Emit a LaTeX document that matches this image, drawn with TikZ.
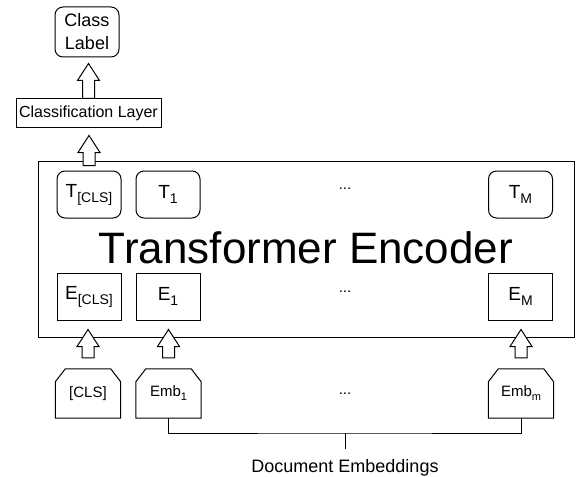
\documentclass[tikz,border=0pt]{standalone}
\usepackage{fontspec}
\setmainfont{Liberation Sans}
\usetikzlibrary{calc}
\newcommand{\mysub}[2]{\raisebox{-#2}{\fontsize{#1}{#1}\selectfont\strut}}
\newcommand{\tsub}[1]{\raisebox{-5pt}{\fontsize{14}{14}\selectfont #1}}
\newcommand{\bsub}[1]{\raisebox{-4pt}{\fontsize{11}{11}\selectfont #1}}
\newcommand{\blockarrow}[2]{\draw[barrow] let \p1=#1, \p2=#2 in
  (\x1-6pt,\y1) -- (\x1-6pt,\y2-17pt) -- (\x1-11pt,\y2-17pt) -- (\x1,\y2)
  -- (\x1+11pt,\y2-17pt) -- (\x1+6pt,\y2-17pt) -- (\x1+6pt,\y1) -- cycle;}
\newcommand{\chamfer}[1]{\draw[line width=1pt] ([yshift=-13pt]#1.north west) -- ([xshift=10pt]#1.north west)
  -- ([xshift=-10pt]#1.north east) -- ([yshift=-13pt]#1.north east)
  -- (#1.south east) -- (#1.south west) -- cycle;}
\tikzset{
  box/.style={draw, line width=1pt, inner sep=0pt, minimum width=64pt, minimum height=47pt, align=center},
  rbox/.style={box, rounded corners=8pt},
  cbox/.style={inner sep=0pt, minimum width=65pt, minimum height=49pt, align=center},
  tlabel/.style={font=\fontsize{19}{23}\selectfont},
  blabel/.style={font=\fontsize{15}{18}\selectfont},
  dots/.style={font=\fontsize{15}{18}\selectfont, inner sep=0pt},
  barrow/.style={draw, fill=white, line width=1pt, line join=miter}
}
\begin{document}
\begin{tikzpicture}[x=1pt,y=-1pt]
\useasboundingbox (0,0) rectangle (580,476);
% top
\node[rbox, minimum width=64pt, minimum height=50pt, font=\fontsize{18}{23}\selectfont] (label) at (87,32) {Class\\Label};
\node[box, minimum width=145pt, minimum height=28pt, font=\fontsize{16}{19}\selectfont] (cl) at (88.5,113) {Classification Layer};
% encoder
\node[draw, line width=1pt, minimum width=536pt, minimum height=176pt, inner sep=0pt] (enc) at (306,249) {};
\node[anchor=base, inner sep=0pt, font=\fontsize{44}{50}\selectfont] (title) at (306,263) {Transformer Encoder};
\node[rbox, tlabel] (tcls) at (89,194.5) {T\tsub{[CLS]}};
\node[rbox, tlabel] (t1) at (168,194.5) {T\tsub{1}};
\node[rbox, tlabel] (tm) at (520.5,194.5) {T\tsub{M}};
\node[box, tlabel] (ecls) at (89,296.5) {E\tsub{[CLS]}};
\node[box, tlabel] (e1) at (168,296.5) {E\tsub{1}};
\node[box, tlabel] (em) at (520.5,296.5) {E\tsub{M}};
\node[dots] (d1) at (345,189) {...};
\node[dots] (d2) at (345,292) {...};
% inputs
\node[cbox, blabel] (clsin) at (88,393.5) {[CLS]};
\node[cbox, blabel] (emb1) at (168.5,393.5) {Emb\bsub{1}};
\node[cbox, blabel] (embm) at (521,393.5) {Emb\bsub{m}};
\chamfer{clsin}
\chamfer{emb1}
\chamfer{embm}
\node[dots] (d3) at (345,394) {...};
% arrows
\blockarrow{(cl.north)}{([yshift=-6pt]label.south)}
\blockarrow{([yshift=5pt]tcls.north)}{([yshift=-8pt]cl.south)}
\blockarrow{([yshift=11pt]clsin.north)}{([yshift=-9pt]ecls.south)}
\blockarrow{([yshift=11pt]emb1.north)}{([yshift=-9pt]e1.south)}
\blockarrow{([yshift=11pt]embm.north)}{([yshift=-9pt]em.south)}
% bracket
\coordinate (brk) at (345,433);
\coordinate (tick) at (345,449);
\draw[line width=1pt] (emb1.south) |- (brk) -| (embm.south);
\draw[line width=1pt] (brk) -- (tick);
\node[anchor=base, inner sep=0pt, font=\fontsize{18}{22}\selectfont] (doc) at (345,472) {Document Embeddings};
\end{tikzpicture}
\end{document}
